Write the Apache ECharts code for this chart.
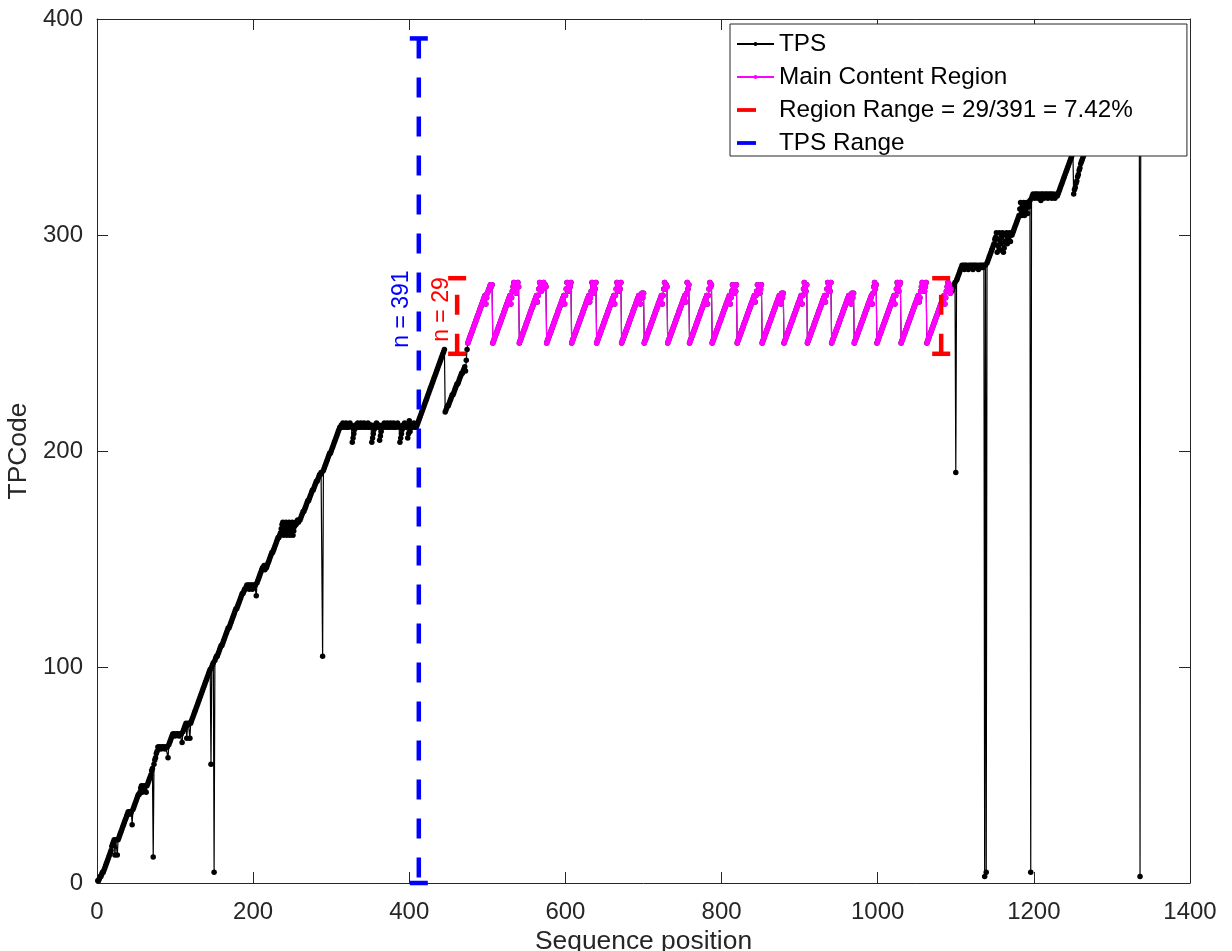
<!DOCTYPE html>
<html><head><meta charset="utf-8">
<script src="https://cdn.jsdelivr.net/npm/echarts/dist/echarts.min.js"></script>
<style>html,body{margin:0;padding:0;background:#fff}#chart{width:1232px;height:951px}</style>
</head><body><div id="chart"></div>
<script>
// ---- data (TPCode at each sequence position) ----
const tpsHead = [
1,1,2,3,3,4,5,5,6,7,
8,9,10,11,12,13,14,15,17,18,19,
20,13,20,20,13,20,21,
22,23,24,25,26,27,28,29,30,31,
32,33,32,33,32,33,27,
34,35,36,37,38,39,40,41,41,42,
44,45,42,44,45,43,45,42,45,
46,47,48,49,50,52,53,
12,
55,57,58,60,61,63,
63,63,63,62,63,63,63,63,62,63,63,63,58,
64,65,66,67,68,69,
69,69,68,69,69,69,69,68,69,69,69,65,
70,71,72,73,74,67,73,74,74,67,74,75,
76,77,78,79,80,81,82,83,84,85,86,87,88,89,90,91,92,93,94,95,96,97,98,99,
55,100,101,102,5,103,
104,105,105,106,107,108,109,110,110,111,112,113,114,115,116,117,118,118,119,120,121,122,123,124,125,126,127,127,128,129,130,131,
132,133,134,134,135,136,136,137,138,
137,138,136,138,137,138,136,138,137,138,138,133,
139,140,141,142,143,144,145,146,
146,147,145,147,146,147,
148,149,150,151,152,153,153,154,155,156,157,158,159,160,160,161,
162,164,166,167,161,163,165,167,161,163,165,167,161,163,165,167,161,163,165,167,166,167,168,167,168,168,
169,170,171,172,172,173,174,175,176,177,177,178,179,180,181,182,182,183,184,185,186,186,187,188,189,189,190,190,
105,
191,192,193,194,195,196,197,198,199,199,200,201,202,
203,204,205,206,207,208,209,210,211,
211,212,211,213,212,211,212,213,211,212,211,212,213,212,211,
204,206,208,210,212,
211,212,213,211,212,211,213,212,211,212,213,211,212,211,212,213,211,212,211,212,
204,206,208,210,212,
211,213,212,211,212,
205,207,209,211,212,
211,213,212,211,212,213,211,212,211,213,212,211,212,213,211,212,211,212,213,212,211,
204,206,208,210,212,
211,213,212,211,212,
206,208,214,209,211,
212,211,212,213,211,212,211,
212,213,214,215,216,217,218,219,220,221,222,223,224,225,226,227,228,229,230,231,232,233,234,235,236,237,238,239,240,241,242,243,244,245,246,247,
218,
219,220,221,221,222,223,224,225,226,226,227,228,229,230,231,231,232,233,234,235,236,236,237,238,239,
237,242,247
];
const regionCodes = [
250,251,252,253,254,255,256,257,258,259,260,261,262,263,264,265,266,267,268,269,270,271,272, 268,271,273,274,275,276,277,276,277,
250,251,252,253,254,255,256,257,258,259,260,261,262,263,264,265,266,267,268,269,270,271,272, 268,271,274,276,278,275,277,273,276,278,276,
250,251,252,253,254,255,256,257,258,259,260,261,262,263,264,265,266,267,268,269,270,271,272, 269,272,275,278,276,274,277,275,278,276,277,276,
250,251,252,253,254,255,256,257,258,259,260,261,262,263,264,265,266,267,268,269,270,271,272, 268,272,275,278,275,277,274,276,278,
250,251,252,253,254,255,256,257,258,259,260,261,262,263,264,265,266,267,268,269,270,271,272, 269,271,274,278,276,273,277,275,278,
250,251,252,253,254,255,256,257,258,259,260,261,262,263,264,265,266,267,268,269,270,271,272, 268,272,275,278,276,274,277,275,278,
250,251,252,253,254,255,256,257,258,259,260,261,262,263,264,265,266,267,268,269,270,271,272, 270,268,272,273,271,273,
250,251,252,253,254,255,256,257,258,259,260,261,262,263,264,265,266,267,268,269,270,271,272, 268,272,275,278,275,277,276,
250,251,252,253,254,255,256,257,258,259,260,261,262,263,264,265,266,267,268,269,270,271,272, 269,273,278,275,277,
250,251,252,253,254,255,256,257,258,259,260,261,262,263,264,265,266,267,268,269,270,271,272, 268,272,275,278,276,277,
250,251,252,253,254,255,256,257,258,259,260,261,262,263,264,265,266,267,268,269,270,271,272, 268,271,274,277,275,273,276,274,277,
250,251,252,253,254,255,256,257,258,259,260,261,262,263,264,265,266,267,268,269,270,271,272, 269,272,274,277,274,276,273,275,277,
250,251,252,253,254,255,256,257,258,259,260,261,262,263,264,265,266,267,268,269,270,271,272, 270,268,273,271,273,
250,251,252,253,254,255,256,257,258,259,260,261,262,263,264,265,266,267,268,269,270,271,272, 268,272,275,278,276,274,277,
250,251,252,253,254,255,256,257,258,259,260,261,262,263,264,265,266,267,268,269,270,271,272, 269,272,275,278,275,277,274,278,
250,251,252,253,254,255,256,257,258,259,260,261,262,263,264,265,266,267,268,269,270,271,272, 269,271,268,273,271,273,
250,251,252,253,254,255,256,257,258,259,260,261,262,263,264,265,266,267,268,269,270,271,272, 268,273,276,278,275,277,
250,251,252,253,254,255,256,257,258,259,260,261,262,263,264,265,266,267,268,269,270,271,272, 268,272,275,278,276,274,277,278,
250,251,252,253,254,255,256,257,258,259,260,261,262,263,264,265,266,267,268,269,270,271,272, 269,271,274,276,278,275,277,274,276,278,
250,251,252,253,254,255,256,257,258,259,260,261,262,263,264,265,266,267,268,269,270,271,272, 268,271,274,276,278,275,277,273,275
];
const tpsTail = [
274,275,276,277,278,
190,
279,280,281,282,283,284,285,
286,285,286,284,286,285,286,285,284,286,285,286,285,286,284,286,285,286,285,286,285,284,286,285,286,285,286,285,286,
3,286,5,
287,288,289,290,291,292,293,294,295,296,298,299,301,
292,295,298,301,293,296,299,301,292,294,297,300,301,296,298,300,301,297,300,
300,301,302,303,304,305,306,307,308,309,
312,315,309,311,313,315,309,311,313,315,310,313,315,316,
5,
317,318,319,318,317,319,318,319,317,318,319,318,316,319,318,319,317,318,319,318,319,317,318,319,318,319,317,318,319,318,317,318,319,318,
319,320,321,322,323,324,325,326,327,328,329,330,331,332,333,334,335,336,337,338,
319,
321,322,324,325,327,328,330,331,333,334,335,336,337,
338,339,340,341,342,343,344,345,346,347,348,349,350,351,352,353,354,355,356,357,358,359,360,361,362,363,364,365,366,367,368,369,370,371,372,373,374,375,376,377,378,379,380,381,382,383,384,385,386,387,388,389,390,391,
391,390,391,389,391,390,391,388,391,390,391,389,391,390,391,390,391,
3,
390,391,390,391
];
// error bars: [position, low code, high code]
const regionRangeBars = [[461.3, 245, 280], [1081.3, 245, 280]];
const tpsRangeBars = [[412.2, 0, 391]];
const regionLabel = 'n = 29';
const tpsLabel = 'n = 391';
const seriesNames = ['TPS', 'Main Content Region', 'Region Range = 29/391 = 7.42%', 'TPS Range'];
const xTicks = {min: 0, max: 1400, step: 200};
const yTicks = {min: 0, max: 400, step: 100};

// ---- assemble ----
const regionStart = tpsHead.length + 1;
const tpsCodes = tpsHead.concat(regionCodes, tpsTail);
const tpsData = tpsCodes.map((v, i) => [i + 1, v]);
const regionData = regionCodes.map((v, i) => [regionStart + i, v]);

const FONT = '"Liberation Sans", Arial, Helvetica, sans-serif';
const AX = '#262626';

function barRenderer(color, labelText, labelDx, labelCode, fromBottom) {
  return function (params, api) {
    const x = api.value(0), lo = api.value(1), hi = api.value(2);
    const pLo = api.coord([x, lo]);
    const pHi = api.coord([x, hi]);
    const cx = pLo[0];
    const capW = 18, lw = 4.5;
    const ya = fromBottom ? pLo[1] : pHi[1];
    const yb = fromBottom ? pHi[1] : pLo[1];
    const children = [
      {type: 'line', shape: {x1: cx, y1: ya, x2: cx, y2: yb}, style: {stroke: color, lineWidth: lw, lineDash: [20, 19]}},
      {type: 'line', shape: {x1: cx - capW / 2, y1: pHi[1], x2: cx + capW / 2, y2: pHi[1]}, style: {stroke: color, lineWidth: lw}},
      {type: 'line', shape: {x1: cx - capW / 2, y1: pLo[1], x2: cx + capW / 2, y2: pLo[1]}, style: {stroke: color, lineWidth: lw}}
    ];
    if (params.dataIndex === 0 && labelText) {
      const py = api.coord([x, labelCode])[1];
      children.push({type: 'text', x: cx + labelDx, y: py, rotation: Math.PI / 2,
        style: {text: labelText, fill: color, fontSize: 23, fontFamily: FONT, align: 'center', verticalAlign: 'middle'}});
    }
    return {type: 'group', children: children};
  };
}

function axisCommon(extra) {
  return Object.assign({
    type: 'value',
    axisLine: {show: true, onZero: false, lineStyle: {color: AX, width: 1}},
    axisTick: {show: true, inside: true, length: 11, lineStyle: {color: AX, width: 1}},
    splitLine: {show: false},
    minorTick: {show: false}
  }, extra);
}

const chart = echarts.init(document.getElementById('chart'), null, {renderer: 'canvas'});
const option = {
  animation: false,
  backgroundColor: '#ffffff',
  textStyle: {fontFamily: FONT},
  grid: {left: 97, right: 42, top: 19, bottom: 68, containLabel: false, outerBoundsMode: 'none'},
  xAxis: [
    axisCommon({min: xTicks.min, max: xTicks.max, interval: xTicks.step, position: 'bottom',
      name: 'Sequence position', nameLocation: 'middle', nameGap: 43,
      nameTextStyle: {fontSize: 26.4, color: AX, fontFamily: FONT},
      axisLabel: {show: true, fontSize: 24, color: AX, margin: 17, fontFamily: FONT, showMinLabel: true, showMaxLabel: true, formatter: v => String(v)}}),
    axisCommon({min: xTicks.min, max: xTicks.max, interval: xTicks.step, position: 'top', axisLabel: {show: false}})
  ],
  yAxis: [
    axisCommon({min: yTicks.min, max: yTicks.max, interval: yTicks.step, position: 'left',
      name: 'TPCode', nameLocation: 'middle', nameGap: 44,
      nameTextStyle: {fontSize: 26.4, color: AX, fontFamily: FONT},
      axisLabel: {show: true, fontSize: 24, color: AX, margin: 14, fontFamily: FONT, showMinLabel: true, showMaxLabel: true, formatter: v => String(v)}}),
    axisCommon({min: yTicks.min, max: yTicks.max, interval: yTicks.step, position: 'right', axisLabel: {show: false}})
  ],
  legend: {
    show: true, orient: 'vertical', left: 730, top: 24,
    padding: [8, 54, 1, 6], itemGap: 9, itemWidth: 37, itemHeight: 5,
    backgroundColor: '#ffffff', borderColor: AX, borderWidth: 1, borderRadius: 0,
    selectedMode: false,
    textStyle: {fontSize: 24.3, color: '#000000', fontFamily: FONT},
    data: [
      {name: seriesNames[0]},
      {name: seriesNames[1]},
      {name: seriesNames[2], icon: 'path://M0,0 M37,5 M0,0.6 L19,0.6 L19,4.4 L0,4.4 Z'},
      {name: seriesNames[3], icon: 'path://M0,0 M37,5 M0,0.6 L19,0.6 L19,4.4 L0,4.4 Z'}
    ]
  },
  series: [
    {name: seriesNames[0], type: 'line', data: tpsData, xAxisIndex: 0, yAxisIndex: 0,
      symbol: 'circle', symbolSize: 5.5, showSymbol: true, showAllSymbol: true,
      itemStyle: {color: '#000000'}, lineStyle: {color: '#000000', width: 1.2}, silent: true, z: 2},
    {name: seriesNames[1], type: 'line', data: regionData, xAxisIndex: 0, yAxisIndex: 0,
      symbol: 'circle', symbolSize: 5.5, showSymbol: true, showAllSymbol: true,
      itemStyle: {color: '#ff00ff'}, lineStyle: {color: '#ff00ff', width: 1.2}, silent: true, z: 3},
    {name: seriesNames[2], type: 'custom', data: regionRangeBars, encode: {x: 0, y: [1, 2]},
      itemStyle: {color: '#ff0000'}, renderItem: barRenderer('#ff0000', regionLabel, -15.5, 265.5, true), silent: true, z: 4},
    {name: seriesNames[3], type: 'custom', data: tpsRangeBars, encode: {x: 0, y: [1, 2]},
      itemStyle: {color: '#0000ff'}, renderItem: barRenderer('#0000ff', tpsLabel, -16.7, 265.7, false), silent: true, z: 4}
  ]
};
chart.setOption(option);
</script></body></html>
